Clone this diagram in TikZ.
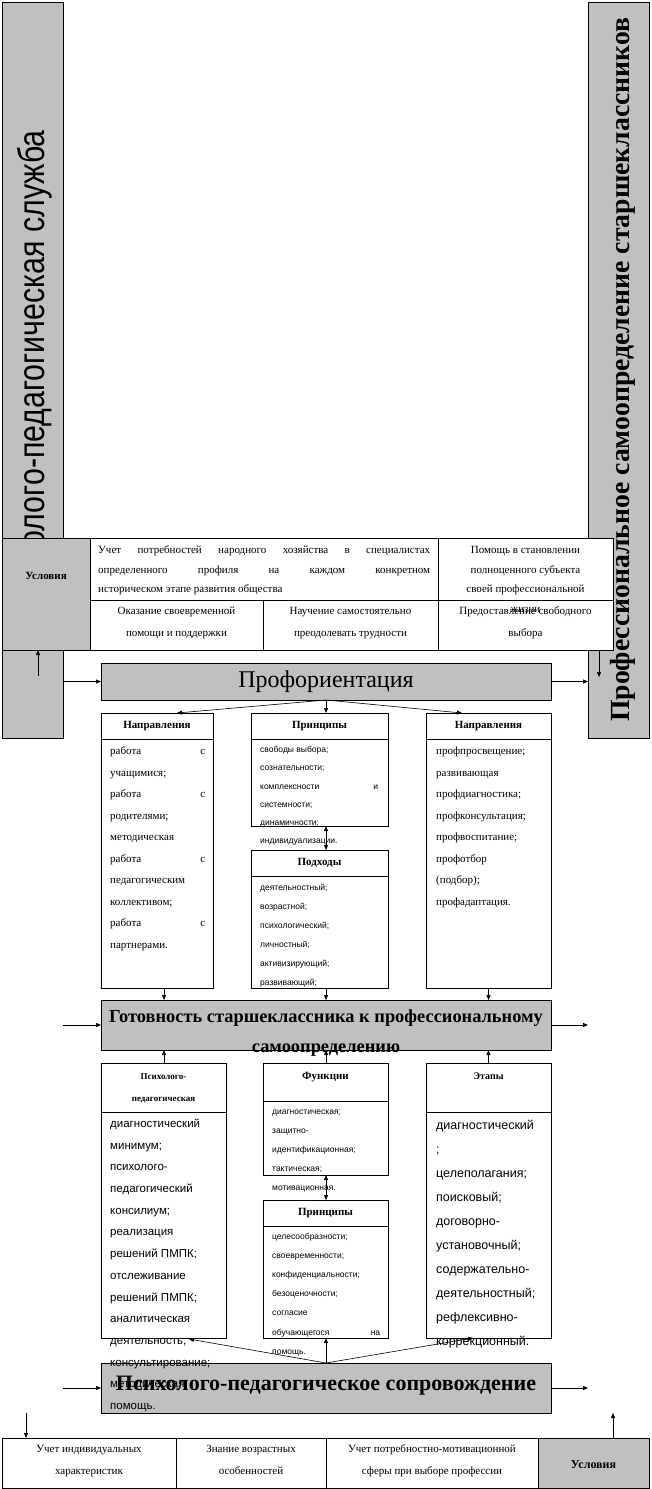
\documentclass[tikz,border=0pt]{standalone}
\usepackage{fontspec}
\setmainfont{Liberation Serif}
\newfontfamily\sansf{Liberation Sans}
\newfontfamily\narrowf[FakeStretch=0.82]{Liberation Sans}
\usetikzlibrary{arrows.meta}
\definecolor{gr}{HTML}{C0C0C0}
\begin{document}
\begin{tikzpicture}[x=1pt,y=-1pt,
  bx/.style={draw, fill=white, line width=0.9pt, inner sep=0pt, outer sep=0pt, anchor=north west},
  gbx/.style={bx, fill=gr},
  arr/.style={-{Triangle[length=5pt,width=4pt]}, line width=0.6pt},
  darr/.style={{Triangle[length=5pt,width=4pt]}-{Triangle[length=5pt,width=4pt]}, line width=0.6pt},
  lst/.style={anchor=north west, inner sep=0pt, align=left},
  ctr/.style={anchor=north, inner sep=0pt, align=center},
  hd/.style={inner sep=0pt, font=\bfseries\fontsize{11}{13}\selectfont},
  dv/.style={line width=0.9pt}]
\useasboundingbox (0,0) rectangle (651,1489);
\fill[white] (0,0) rectangle (651,1489);

% side bars
\node[gbx, minimum width=61pt, minimum height=736pt] (lbar) at (2,2) {};
\node[gbx, minimum width=61pt, minimum height=736pt] (rbar) at (588,2) {};
\node[rotate=90, anchor=east, inner sep=0pt, font=\narrowf\fontsize{37}{44}\selectfont] (lvt) at (35,130) {Психолого-педагогическая служба};

% top table
\node[gbx, minimum width=88pt, minimum height=112pt] (uc1) at (2,538) {};
\node[inner sep=0pt, font=\bfseries\fontsize{11}{13}\selectfont] (uc1t) at (46,576) {Условия};
\node[bx, minimum width=348pt, minimum height=62pt] (t1) at (90,538) {};
\node[bx, minimum width=175pt, minimum height=62pt] (t2) at (438,538) {};
\node[bx, minimum width=173pt, minimum height=50pt] (t3) at (90,600) {};
\node[bx, minimum width=175pt, minimum height=50pt] (t4) at (263,600) {};
\node[bx, minimum width=175pt, minimum height=50pt] (t5) at (438,600) {};
\node[lst, font=\fontsize{11}{19.5}\selectfont] (t1x) at (98,540) {\strut\makebox[332pt][s]{Учет потребностей народного хозяйства в специалистах}\\\makebox[332pt][s]{определенного профиля на каждом конкретном}\\историческом этапе развития общества};
\node[ctr, font=\fontsize{11}{19.5}\selectfont] (t2x) at (525.5,540) {\strut Помощь в становлении\\полноценного субъекта\\своей профессиональной\\жизни};
\node[ctr, font=\fontsize{11}{22}\selectfont] (t3x) at (176.5,599) {\strut Оказание своевременной\\помощи и поддержки};
\node[ctr, font=\fontsize{11}{22}\selectfont] (t4x) at (350.5,599) {\strut Научение самостоятельно\\преодолевать трудности};
\node[ctr, font=\fontsize{11}{22}\selectfont] (t5x) at (525.5,599) {\strut Предоставление свободного\\выбора};

\node[rotate=90, anchor=west, inner sep=0pt, font=\bfseries\fontsize{27.7}{34}\selectfont] (rvt) at (623,722) {Профессиональное самоопределение старшеклассников};

% Profor
\node[gbx, minimum width=450pt, minimum height=37pt] (prof) at (101,663) {};
\node[inner sep=0pt, font=\fontsize{24}{28}\selectfont] (proft) at (326,682) {Профориентация};

% upper boxes
\node[bx, minimum width=112pt, minimum height=275pt] (dirL) at (101,713) {};
\node[bx, minimum width=137pt, minimum height=113pt] (prinU) at (251,713) {};
\node[bx, minimum width=137pt, minimum height=138pt] (podh) at (251,850) {};
\node[bx, minimum width=125pt, minimum height=275pt] (dirR) at (426,713) {};
\draw[dv] (dirL.west |- 0,739) -- (dirL.east |- 0,739);
\draw[dv] (prinU.west |- 0,739) -- (prinU.east |- 0,739);
\draw[dv] (podh.west |- 0,876) -- (podh.east |- 0,876);
\draw[dv] (dirR.west |- 0,739) -- (dirR.east |- 0,739);
\node[hd] (dirLh) at (157,726) {Направления};
\node[hd] (prinUh) at (319.5,726) {Принципы};
\node[hd] (podhh) at (319.5,863) {Подходы};
\node[hd] (dirRh) at (488.5,726) {Направления};

\node[lst, font=\fontsize{11}{21.5}\selectfont] (dirLx) at (110,739.5) {\strut\makebox[95pt][s]{работа с}\\учащимися;\\\makebox[95pt][s]{работа с}\\родителями;\\методическая\\\makebox[95pt][s]{работа с}\\педагогическим\\коллективом;\\\makebox[95pt][s]{работа с}\\партнерами.};
\node[lst, font=\fontsize{11}{21.5}\selectfont] (dirRx) at (436,739.5) {\strut профпросвещение;\\развивающая\\профдиагностика;\\профконсультация;\\профвоспитание;\\профотбор\\(подбор);\\профадаптация.};
\node[lst, font=\sansf\fontsize{8.5}{18.1}\selectfont] (prinUx) at (260,740) {\strut свободы выбора;\\сознательности;\\\makebox[118pt][s]{комплексности и}\\системности;\\динамичности;\\индивидуализации.};
\node[lst, font=\sansf\fontsize{8.5}{19}\selectfont] (podhx) at (260,876.5) {\strut деятельностный;\\возрастной;\\психологический;\\личностный;\\активизирующий;\\развивающий;};

% readiness
\node[gbx, minimum width=450pt, minimum height=50pt] (got) at (101,1000) {};
\node[ctr, font=\bfseries\fontsize{18.4}{30}\selectfont] (gott) at (326,1001) {\strut Готовность старшеклассника к профессиональному\\самоопределению};

% lower boxes
\node[bx, minimum width=125pt, minimum height=275pt] (psy) at (101,1063) {};
\node[bx, minimum width=125pt, minimum height=112pt] (func) at (263,1063) {};
\node[bx, minimum width=125pt, minimum height=138pt] (prinL) at (263,1200) {};
\node[bx, minimum width=125pt, minimum height=275pt] (etap) at (426,1063) {};
\draw[dv] (psy.west |- 0,1112) -- (psy.east |- 0,1112);
\draw[dv] (func.west |- 0,1101) -- (func.east |- 0,1101);
\draw[dv] (prinL.west |- 0,1226) -- (prinL.east |- 0,1226);
\draw[dv] (etap.west |- 0,1112) -- (etap.east |- 0,1112);
\node[ctr, font=\bfseries\fontsize{9}{22}\selectfont] (psyh) at (163.5,1064) {\strut Психолого-\\педагогическая};
\node[hd] (funch) at (325.5,1077) {Функции};
\node[hd] (prinLh) at (325.5,1213) {Принципы};
\node[hd, font=\bfseries\fontsize{10}{12}\selectfont] (etaph) at (488.5,1076) {Этапы};

% support
\node[gbx, minimum width=450pt, minimum height=50pt] (sup) at (101,1363) {};
\node[inner sep=0pt, font=\bfseries\fontsize{22}{26}\selectfont] (supt) at (326,1386) {Психолого-педагогическое сопровождение};

\node[lst, font=\sansf\fontsize{11.5}{21.7}\selectfont] (psyx) at (110,1112) {\strut диагностический\\минимум;\\психолого-\\педагогический\\консилиум;\\реализация\\решений ПМПК;\\отслеживание\\решений ПМПК;\\аналитическая\\деятельность;\\консультирование;\\методическая\\помощь.};
\node[lst, font=\sansf\fontsize{8.5}{19.2}\selectfont] (funcx) at (272,1100.5) {\strut диагностическая;\\защитно-\\идентификационная;\\тактическая;\\мотивационная.};
\node[lst, font=\sansf\fontsize{8.5}{19.2}\selectfont] (prinLx) at (272,1225.5) {\strut целесообразности;\\своевременности;\\конфиденциальности;\\безоценочности;\\согласие\\\makebox[108pt][s]{обучающегося на}\\помощь.};
\node[lst, font=\sansf\fontsize{12.5}{24.1}\selectfont] (etapx) at (436,1112) {\strut диагностический\\;\\целеполагания;\\поисковый;\\договорно-\\установочный;\\содержательно-\\деятельностный;\\рефлексивно-\\коррекционный.};

% bottom table
\node[bx, minimum width=174pt, minimum height=50pt] (b1) at (2,1438) {};
\node[bx, minimum width=150pt, minimum height=50pt] (b2) at (176,1438) {};
\node[bx, minimum width=212pt, minimum height=50pt] (b3) at (326,1438) {};
\node[gbx, minimum width=111pt, minimum height=50pt] (b4) at (538,1438) {};
\node[ctr, font=\fontsize{11}{22}\selectfont] (b1x) at (89,1437) {\strut Учет индивидуальных\\характеристик};
\node[ctr, font=\fontsize{11}{22}\selectfont] (b2x) at (251,1437) {\strut Знание возрастных\\особенностей};
\node[ctr, font=\fontsize{11}{22}\selectfont] (b3x) at (432,1437) {\strut Учет потребностно-мотивационной\\сферы при выборе профессии};
\node[inner sep=0pt, font=\bfseries\fontsize{12}{14}\selectfont] (b4x) at (593.5,1465) {Условия};

% coordinates
\coordinate (xa) at (164,0);
\coordinate (xb) at (326,0);
\coordinate (xc) at (488.5,0);
\coordinate (la) at (38,676);
\coordinate (ra) at (599,677);
\coordinate (pl) at (177,713);
\coordinate (pr) at (462,713);
\coordinate (gl) at (63,1025);
\coordinate (gr2) at (588,1025);
\coordinate (sl) at (63,1388);
\coordinate (sr) at (588,1388);
\coordinate (sL) at (189,1339);
\coordinate (sR) at (473,1338);
\coordinate (bl) at (26,1413);
\coordinate (br) at (613,1413);

% connectors
\draw[arr] (la) -- (uc1.south -| la);
\draw[arr] (t5.south -| ra) -- (ra);
\draw[arr] (lbar.east |- prof.west) -- (prof.west);
\draw[arr] (prof.east) -- (rbar.west |- prof.east);
\draw[arr] (prof.south) -- (pl);
\draw[arr] (prof.south) -- (prof.south |- prinU.north);
\draw[arr] (prof.south) -- (pr);
\draw[arr] (dirL.south -| xa) -- (got.north -| xa);
\draw[arr] (podh.south -| xb) -- (got.north -| xb);
\draw[arr] (dirR.south -| xc) -- (got.north -| xc);
\draw[darr] (prinU.south -| xb) -- (podh.north -| xb);
\draw[arr] (gl) -- (gl -| got.west);
\draw[arr] (got.east |- gr2) -- (gr2);
\draw[arr] (psy.north -| xa) -- (got.south -| xa);
\draw[arr] (func.north -| xb) -- (got.south -| xb);
\draw[arr] (etap.north -| xc) -- (got.south -| xc);
\draw[darr] (func.south -| xb) -- (prinL.north -| xb);
\draw[arr] (sup.north) -- (prinL.south -| sup.north);
\draw[arr] (sup.north) -- (sL);
\draw[arr] (sup.north) -- (sR);
\draw[arr] (sl) -- (sl -| sup.west);
\draw[arr] (sup.east |- sr) -- (sr);
\draw[arr] (bl) -- (b1.north -| bl);
\draw[arr] (b4.north -| br) -- (br);
\end{tikzpicture}
\end{document}
